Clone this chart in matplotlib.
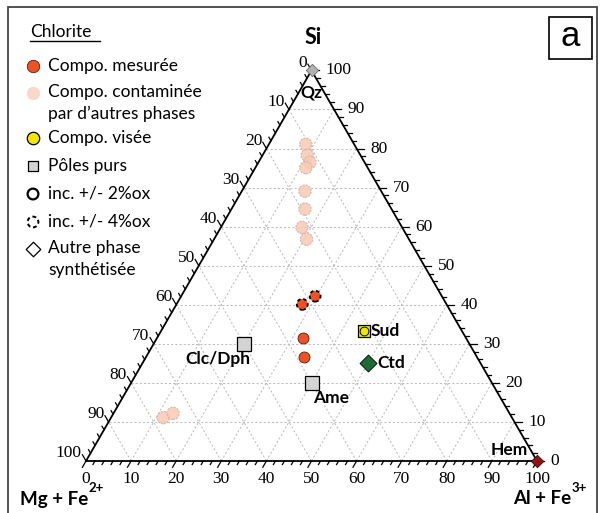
import numpy as np
import matplotlib.pyplot as plt
from matplotlib.patches import Rectangle
from matplotlib.lines import Line2D

# compositions in % : (Al + Fe3+, Si), Mg + Fe2+ = 100 - Al - Si
mes_al = [32.4, 35.0]          # measured, +/- 2%ox
mes_si = [31.4, 26.7]
mes4_al = [27.9, 29.7]         # measured, +/- 4%ox
mes4_si = [40.1, 42.2]
cont_al = [8.2, 9.9, 11.4, 11.2, 14.0, 16.3, 18.0, 20.5, 11.6, 13.2]
cont_si = [81.1, 78.3, 76.5, 75.1, 69.1, 64.5, 59.8, 56.8, 11.1, 12.2]
pole_names = ['Clc/Dph', 'Ame']
pole_al = [20, 40]
pole_si = [30, 20]
sud_al, sud_si = [45], [33.3]
ctd_al, ctd_si = [50], [25]
qz_al, qz_si = [0], [100]
hem_al, hem_si = [100], [0]
ticks = list(range(0, 101, 10))
minor = list(range(0, 101, 2))

S3 = np.sqrt(3) / 2
SANS = 'Lato'
SERIF = 'Liberation Serif'


def tern(al, si):
    al = np.asarray(al, float)
    si = np.asarray(si, float)
    return al + si / 2, si * S3


def F(x, y):
    # pixel position -> figure fraction
    return x / 601, 1 - y / 513


fig = plt.figure(figsize=(6.01, 5.13), dpi=100)
ax = fig.add_axes([0, 0, 1, 1])
ax.set_xlim(-19.07, 114.19)
ax.set_ylim(-11.53, 102.22)
ax.set_autoscale_on(False)
ax.axis('off')

# grid
for v in ticks[1:-1]:
    for a, b in [((v, 0), (v, 100 - v)), ((0, v), (100 - v, v)), ((100 - v, 0), (0, 100 - v))]:
        x, y = tern([a[0], b[0]], [a[1], b[1]])
        ax.plot(x, y, color='#bdbdbd', lw=0.75, dashes=(2, 2), zorder=1)

# triangle
x, y = tern([0, 100, 0, 0], [0, 0, 100, 0])
ax.plot(x, y, color='black', lw=1.3, zorder=2)

# ticks
for v in minor:
    ln = 1.6 if v % 10 == 0 else 0.9
    # bottom: Al+Fe3+
    x, y = tern([v], [0])
    ax.plot([x[0], x[0] - 0.5 * ln], [y[0], y[0] - S3 * ln], color='black', lw=0.9)
    # right: Si
    x, y = tern([100 - v], [v])
    ax.plot([x[0], x[0] + ln], [y[0], y[0]], color='black', lw=0.9)
    # left: Mg+Fe2+
    x, y = tern([0], [100 - v])
    ax.plot([x[0], x[0] - 0.5 * ln], [y[0], y[0] + S3 * ln], color='black', lw=0.9)

for v in ticks:
    x, y = tern([v], [0])
    ax.text(x[0], y[0] - 3.9, str(v), ha='center', va='center', fontsize=12.5, family=SERIF)
    x, y = tern([100 - v], [v])
    ax.text(x[0] + 3.0, y[0], str(v), ha='left', va='center', fontsize=12.5, family=SERIF)
    x, y = tern([0], [100 - v])
    ax.text(x[0] - 0.9, y[0] + 1.7, str(v), ha='right', va='center', fontsize=12.5, family=SERIF)

# points
x, y = tern(cont_al, cont_si)
ax.scatter(x, y, s=80, color='#f8c9b2', alpha=0.85, edgecolors='#c8b4aa', linewidths=0.8,
           linestyle=(0, (2, 1)), zorder=3)
x, y = tern(mes4_al, mes4_si)
ax.scatter(x, y, s=62, color='#ee5224', edgecolors='black', linewidths=1.3,
           linestyle=(0, (2, 1.5)), zorder=4)
x, y = tern(mes_al, mes_si)
ax.scatter(x, y, s=62, color='#ee5224', edgecolors='#5a1a0a', linewidths=0.6, zorder=4)
x, y = tern(pole_al, pole_si)
ax.scatter(x, y, s=90, marker='s', color='#d4d4d4', edgecolors='black', linewidths=0.9, zorder=4)
x, y = tern(sud_al, sud_si)
ax.scatter(x, y, s=70, marker='s', color='#f2e600', edgecolors='black', linewidths=0.9, zorder=4)
ax.scatter(x, y, s=40, marker='o', color='#f2e600', edgecolors='black', linewidths=0.7, zorder=5)
x, y = tern(ctd_al, ctd_si)
ax.scatter(x, y, s=75, marker='D', color='#1d6b35', edgecolors='black', linewidths=0.6, zorder=4)
x, y = tern(qz_al, qz_si)
ax.scatter(x, y, s=40, marker='D', color='#b0b0b0', edgecolors='#707070', linewidths=0.6, zorder=4)
x, y = tern(hem_al, hem_si)
ax.scatter(x, y, s=40, marker='D', color='#8e1616', edgecolors='#400000', linewidths=0.6, zorder=4)

lab = dict(fontsize=12.5, family=SANS, weight='bold')
x, y = tern(pole_al, pole_si)
ax.text(x[0] - 5.8, y[0] - 3.4, pole_names[0], ha='center', va='center', **lab)
ax.text(x[1] + 4.3, y[1] - 3.4, pole_names[1], ha='center', va='center', **lab)
x, y = tern(sud_al, sud_si)
ax.text(x[0] + 1.5, y[0], 'Sud', ha='left', va='center', **lab)
x, y = tern(ctd_al, ctd_si)
ax.text(x[0] + 2.2, y[0], 'Ctd', ha='left', va='center', **lab)
x, y = tern(qz_al, qz_si)
ax.text(x[0], y[0] - 4.9, 'Qz', ha='center', va='center', **lab)
x, y = tern(hem_al, hem_si)
ax.text(x[0] - 2.0, y[0] + 2.4, 'Hem', ha='right', va='center', **lab)

# apex titles
fig.text(*F(313, 37), 'Si', fontsize=15.5, family=SANS, weight='bold', ha='center', va='center')
rend = fig.canvas.get_renderer()
for px, main, sup in [(20, 'Mg + Fe', '2+'), (513, 'Al + Fe', '3+')]:
    t = fig.text(*F(px, 499), main, fontsize=13.5, family=SANS, weight='bold', ha='left', va='center')
    bb = t.get_window_extent(renderer=rend)
    fig.text(bb.x1 / fig.bbox.width + 0.001, 1 - 488 / 513, sup, fontsize=9.5,
             family=SANS, weight='bold', ha='left', va='center')

# frame and panel label
fig.add_artist(Rectangle(F(8, 520), 589 / 601, 513 / 513, transform=fig.transFigure,
                         fill=False, ec='#444444', lw=1.3))
fig.add_artist(Rectangle(F(549, 59), 43 / 601, 42 / 513, transform=fig.transFigure,
                         fill=False, ec='black', lw=1.2))
fig.text(*F(570.5, 36), 'a', fontsize=25, family='Liberation Sans', ha='center', va='center')

# legend
fig.text(*F(30, 32), 'Chlorite', fontsize=12.5, family=SANS, ha='left', va='center')
fig.add_artist(Line2D([30 / 601, 100 / 601], [1 - 41 / 513] * 2, transform=fig.transFigure,
                      color='black', lw=1))
leg = [
    (66, dict(marker='o', s=80, c='#ee5224', ec='#5a1a0a', lw=0.6), 'Compo. mesurée'),
    (93, dict(marker='o', s=80, c='#f8d8c9', ec='#f8d8c9', lw=0.6), 'Compo. contaminée\npar d\u2019autres phases'),
    (138, dict(marker='o', s=80, c='#f2e600', ec='black', lw=0.9), 'Compo. visée'),
    (166, dict(marker='s', s=60, c='#d4d4d4', ec='black', lw=0.9), 'Pôles purs'),
    (194, dict(marker='o', s=60, c='none', ec='black', lw=1.6), 'inc. +/- 2%ox'),
    (222, dict(marker='o', s=60, c='none', ec='black', lw=1.4, linestyle=(0, (2, 1.5))), 'inc. +/- 4%ox'),
    (249, dict(marker='D', s=55, c='white', ec='black', lw=0.9), 'Autre phase\nsynthétisée'),
]
for yy, mk, txt in leg:
    ax.scatter([33 / 601], [1 - yy / 513], transform=fig.transFigure, clip_on=False, zorder=6, **mk)
    fig.text(48 / 601, 1 - (yy - 8.5) / 513, txt, fontsize=12.5, family=SANS, ha='left', va='top',
             linespacing=1.4)

fig.savefig('out.png', dpi=100)
